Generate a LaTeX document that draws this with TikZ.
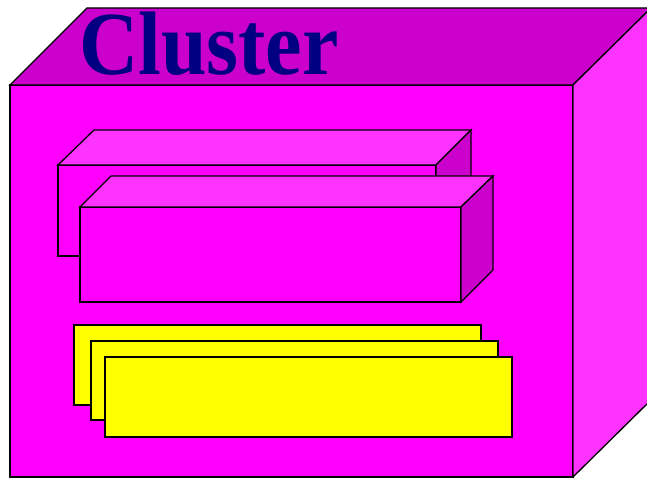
\documentclass[tikz,border=0pt]{standalone}
\usepackage{fontspec}
\setmainfont{Liberation Serif}
\definecolor{frontmag}{HTML}{FF00FF}
\definecolor{topmag}{HTML}{CC00CC}
\definecolor{sidemag}{HTML}{FF33FF}
\definecolor{titlenavy}{HTML}{000080}
\definecolor{cardyellow}{HTML}{FFFF00}
\begin{document}
\begin{tikzpicture}[
    x=1pt, y=-1pt,
    face/.style={draw=black, line width=1.3pt, line join=miter},
    card/.style={draw=black, fill=cardyellow, line width=1.6pt},
  ]
  \useasboundingbox (0,0) rectangle (647,478);
  % ---- outer cluster cube ----
  \begin{scope}
    \clip (0,0) rectangle (647,478);
    \filldraw[face, fill=frontmag] (10,85) rectangle (573,477);
    \filldraw[face, fill=topmag] (10,85) -- (87,8) -- (651,8) -- (573,85) -- cycle;
    \filldraw[face, fill=sidemag] (573,85) -- (651,8) -- (651,400) -- (573,477) -- cycle;
  \end{scope}
  \node[anchor=base west, inner sep=0pt, text=titlenavy,
        font=\fontsize{82}{82}\selectfont\bfseries] (title) at (79,75)
    {\scalebox{1}[1.1]{Cluster}};

  % ---- back node box ----
  \filldraw[face, fill=frontmag] (58,165) rectangle (436,256);
  \filldraw[face, fill=sidemag] (58,165) -- (94,130) -- (471,130) -- (436,165) -- cycle;
  \filldraw[face, fill=topmag] (436,165) -- (471,130) -- (471,221) -- (436,256) -- cycle;

  % ---- front node box ----
  \filldraw[face, fill=frontmag] (80,207) rectangle (461,302);
  \filldraw[face, fill=sidemag] (80,207) -- (111,176) -- (493,176) -- (461,207) -- cycle;
  \filldraw[face, fill=topmag] (461,207) -- (493,176) -- (493,270) -- (461,302) -- cycle;

  % ---- stacked components ----
  \foreach \lx/\ty/\rx/\by in {74/325/481/405, 91/341/498/420, 105/357/512/437}
    \filldraw[card] (\lx,\ty) rectangle (\rx,\by);
\end{tikzpicture}
\end{document}
